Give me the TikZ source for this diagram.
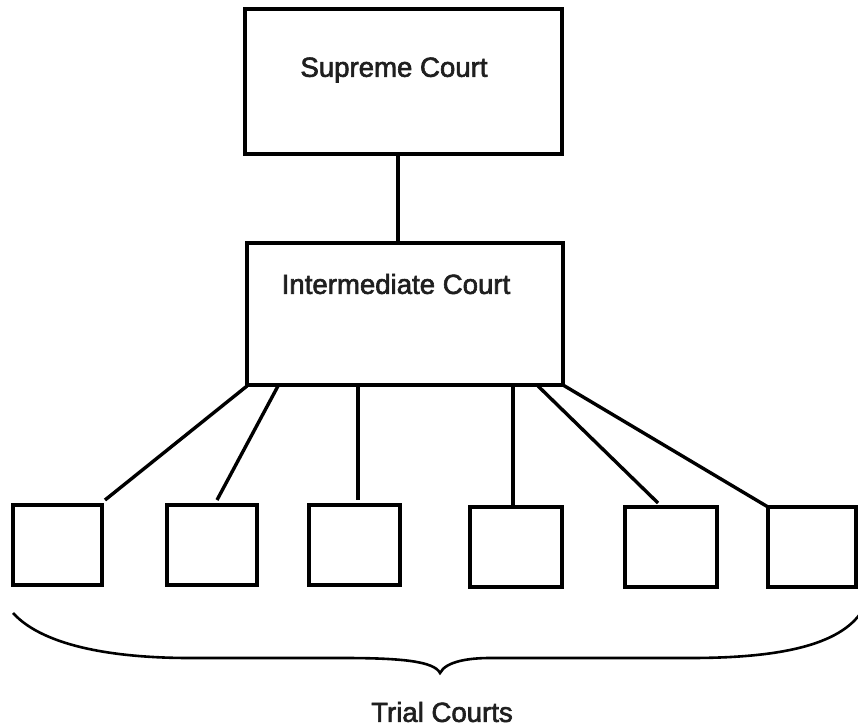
\documentclass[tikz,border=0pt]{standalone}
\usepackage{fontspec}
\setmainfont{Liberation Sans}
\newfontfamily\medfont{Liberation Sans}[FakeBold=2.2]
\begin{document}
\begin{tikzpicture}[x=1pt,y=-1pt,
  box/.style={draw=black,line width=3.6pt,minimum width=#1,inner sep=0pt,outer sep=0pt,rectangle},
  lbl/.style={font=\medfont\fontsize{27.6}{32}\selectfont,text=black!88,inner sep=0pt},
  conn/.style={draw=black,line width=3.4pt},
  brace/.style={draw=black,line width=2.6pt}]
\useasboundingbox (0,0) rectangle (858,727);
% top boxes
\node[box=317pt,minimum height=145pt] (sup) at (403.5,81.5) {};
\node[lbl] (suptxt) at (394,70) {Supreme Court};
\node[box=316pt,minimum height=142pt] (mid) at (405,314) {};
\node[lbl] (midtxt) at (396,284) {Intermediate Court};
\draw[conn] (sup.south -| 398,0) -- (mid.north -| 398,0);
% trial boxes
\node[box=89pt,minimum height=80pt] (t1) at (57.5,545) {};
\node[box=90pt,minimum height=80pt] (t2) at (212,545) {};
\node[box=91pt,minimum height=80pt] (t3) at (354.5,545) {};
\node[box=92pt,minimum height=80pt] (t4) at (516,547) {};
\node[box=92pt,minimum height=80pt] (t5) at (671,547) {};
\node[box=88pt,minimum height=80pt] (t6) at (812,547) {};
% connector ends
\coordinate (s1) at (247,386);
\coordinate (e1) at (105,500);
\coordinate (s2) at (278,386);
\coordinate (e2) at (217,500);
\coordinate (s3) at (358,386);
\coordinate (e3) at (358,500);
\coordinate (s4) at (513,386);
\coordinate (s5) at (538,386);
\coordinate (e5) at (658,503);
\coordinate (s6) at (563,385);
\draw[conn] (s1) -- (e1);
\draw[conn] (s2) -- (e2);
\draw[conn] (s3) -- (e3);
\draw[conn] (s4) -- (s4 |- t4.north);
\draw[conn] (s5) -- (e5);
\draw[conn] (s6) -- (t6.north west);
% brace
\draw[brace] (13,613) .. controls (45,648) and (120,658) .. (190,658)
  -- (343,658) .. controls (400,658) and (434,661) .. (440,673)
  .. controls (446,661) and (470,658) .. (490,658)
  -- (690,658) .. controls (770,658) and (835,648) .. (860,614);
\node[lbl] (trial) at (442,712) {Trial Courts};
\end{tikzpicture}
\end{document}
